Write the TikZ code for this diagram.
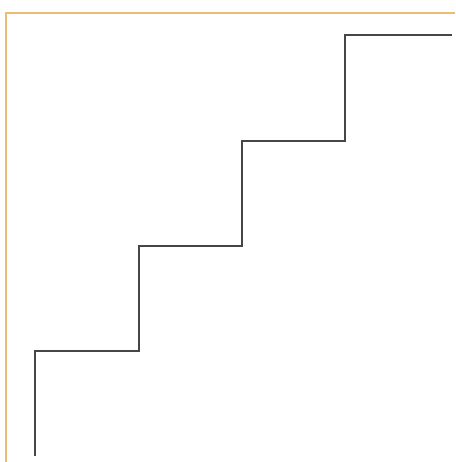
\documentclass[tikz,border=0pt]{standalone}
\definecolor{frameorange}{RGB}{236,188,118}
\definecolor{stairgray}{RGB}{70,70,70}
\begin{document}
\begin{tikzpicture}[x=1pt,y=-1pt,
  frameline/.style={draw=frameorange,line width=1.8pt},
  stairline/.style={draw=stairgray,line width=1.5pt,line join=miter}]
\useasboundingbox[fill=white] (0,0) rectangle (455,462);
\draw[frameline] (6,462) -- (6,13) -- (455,13);
\draw[stairline] (35,456) -- (35,351) -- (139,351) -- (139,246) -- (242,246)
  -- (242,141) -- (345,141) -- (345,35) -- (452,35);
\end{tikzpicture}
\end{document}
